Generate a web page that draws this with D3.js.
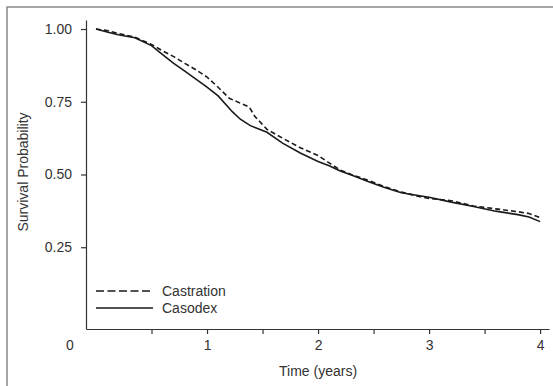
<!DOCTYPE html>
<html>
<head>
<meta charset="utf-8">
<script src="https://cdn.jsdelivr.net/npm/d3@7"></script>
<style>
  body { margin: 0; background: #fff; }
  svg { display: block; font-family: "Liberation Sans", Arial, sans-serif; }
  .axis path, .axis line { stroke: #333; stroke-width: 1.2; }
  .axis text { font-size: 14px; fill: #333; }
</style>
</head>
<body>
<div id="chart"></div>
<script>
// Kaplan-Meier estimates: [time in years, survival probability]
const castration = [[0,1.0],[0.1,0.995],[0.2,0.985],[0.35,0.972],[0.5,0.947],[0.6,0.925],[0.7,0.905],[0.8,0.882],[0.9,0.86],[1.0,0.835],[1.1,0.8],[1.2,0.762],[1.3,0.745],[1.38,0.732],[1.43,0.7],[1.54,0.655],[1.68,0.625],[1.84,0.592],[2.0,0.565],[2.1,0.54],[2.2,0.515],[2.3,0.5],[2.45,0.48],[2.6,0.458],[2.75,0.44],[2.9,0.425],[3.0,0.418],[3.2,0.41],[3.4,0.392],[3.6,0.382],[3.8,0.372],[3.9,0.366],[4.0,0.352]];
const casodex = [[0,1.0],[0.1,0.99],[0.2,0.98],[0.35,0.97],[0.5,0.943],[0.6,0.912],[0.7,0.882],[0.8,0.855],[0.9,0.828],[1.0,0.8],[1.1,0.77],[1.23,0.715],[1.3,0.69],[1.39,0.668],[1.54,0.645],[1.68,0.608],[1.84,0.574],[2.0,0.545],[2.1,0.53],[2.2,0.512],[2.3,0.498],[2.45,0.476],[2.6,0.455],[2.75,0.437],[2.9,0.428],[3.0,0.422],[3.2,0.405],[3.4,0.39],[3.6,0.374],[3.8,0.362],[3.9,0.354],[4.0,0.338]];

const xTicks = [0.5, 1, 1.5, 2, 2.5, 3, 3.5, 4];
const yTicks = [0.25, 0.5, 0.75, 1.0];
const seriesNames = ["Castration", "Casodex"];

const W = 553, H = 386;

const svg = d3.select("#chart").append("svg")
    .attr("width", W)
    .attr("height", H);

// outer frame (runs off the right and bottom of the picture)
svg.append("rect")
    .attr("x", 7).attr("y", 7)
    .attr("width", 700).attr("height", 500)
    .attr("fill", "none")
    .attr("stroke", "#888")
    .attr("stroke-width", 1.5);

const x = d3.scaleLinear().domain([-0.09, 4.08]).range([86, 549]);
const y = d3.scaleLinear().domain([-0.031, 1.031]).range([329, 20]);

// x axis
svg.append("g")
    .attr("class", "axis")
    .attr("transform", `translate(0,${y(-0.031)})`)
    .call(d3.axisBottom(x)
        .tickValues(xTicks)
        .tickSize(5)
        .tickSizeOuter(0)
        .tickPadding(6)
        .tickFormat(d => Number.isInteger(d) ? d : ""));

// "0" label sits at the corner, left of the origin
svg.append("text")
    .attr("x", x(-0.09) - 16)
    .attr("y", y(-0.031) + 21)
    .attr("text-anchor", "middle")
    .style("font-size", "14px")
    .style("fill", "#333")
    .text("0");

// y axis
svg.append("g")
    .attr("class", "axis")
    .attr("transform", `translate(${x(-0.09)},0)`)
    .call(d3.axisLeft(y)
        .tickValues(yTicks)
        .tickSize(5)
        .tickSizeOuter(0)
        .tickPadding(9)
        .tickFormat(d3.format(".2f")));

// axis titles
svg.append("text")
    .attr("transform", "rotate(-90)")
    .attr("x", -172)
    .attr("y", 28)
    .attr("text-anchor", "middle")
    .style("font-size", "14px")
    .style("fill", "#333")
    .text("Survival Probability");

svg.append("text")
    .attr("x", x(2))
    .attr("y", 376)
    .attr("text-anchor", "middle")
    .style("font-size", "14px")
    .style("fill", "#333")
    .text("Time (years)");

// curves
const line = d3.line()
    .x(d => x(d[0]))
    .y(d => y(d[1]));

svg.append("path")
    .datum(casodex)
    .attr("d", line)
    .attr("fill", "none")
    .attr("stroke", "#1a1a1a")
    .attr("stroke-width", 1.6);

svg.append("path")
    .datum(castration)
    .attr("d", line)
    .attr("fill", "none")
    .attr("stroke", "#1a1a1a")
    .attr("stroke-width", 1.6)
    .attr("stroke-dasharray", "5,3");

// legend
const legend = svg.append("g");
seriesNames.forEach((name, i) => {
    const ly = 291 + i * 17;
    legend.append("line")
        .attr("x1", 96).attr("x2", 153)
        .attr("y1", ly).attr("y2", ly)
        .attr("stroke", "#1a1a1a")
        .attr("stroke-width", 1.4)
        .attr("stroke-dasharray", i === 0 ? "8,3.5" : null);
    legend.append("text")
        .attr("x", 162)
        .attr("y", ly + 5)
        .style("font-size", "14px")
        .style("fill", "#333")
        .text(name);
});
</script>
</body>
</html>
